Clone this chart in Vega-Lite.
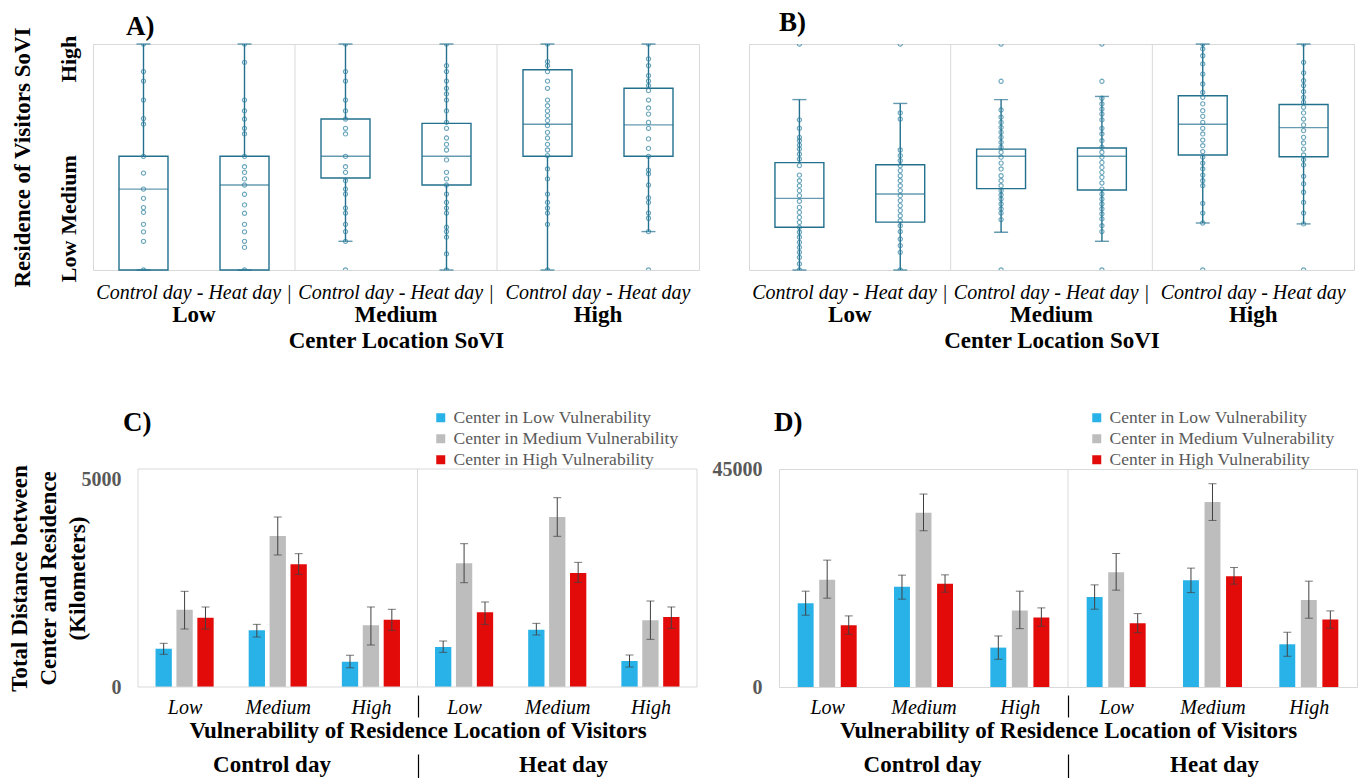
{
"$schema": "https://vega.github.io/schema/vega-lite/v6.json",
"background": "white",
"padding": {"left": 8, "top": 8, "right": 0, "bottom": 0},
"config": {
  "font": "Liberation Serif",
  "view": {"stroke": "#d9d9d9", "strokeWidth": 1},
  "axis": {"labelFont": "Liberation Serif", "titleFont": "Liberation Serif", "grid": false, "domain": false, "ticks": false, "labelColor": "black", "titleColor": "black"},
  "title": {"font": "Liberation Serif", "fontSize": 27, "fontWeight": "bold", "anchor": "start", "frame": "group", "color": "black"},
  "legend": {"labelFont": "Liberation Serif"}
},
"datasets": {
  "ptsA": [
    {"grp":"Low","day":"Control","v":1},{"grp":"Low","day":"Control","v":0.878},{"grp":"Low","day":"Control","v":0.836},{"grp":"Low","day":"Control","v":0.752},{"grp":"Low","day":"Control","v":0.67},{"grp":"Low","day":"Control","v":0.645},{"grp":"Low","day":"Control","v":0.503},{"grp":"Low","day":"Control","v":0.429},{"grp":"Low","day":"Control","v":0.358},{"grp":"Low","day":"Control","v":0.317},{"grp":"Low","day":"Control","v":0.276},{"grp":"Low","day":"Control","v":0.255},{"grp":"Low","day":"Control","v":0.202},{"grp":"Low","day":"Control","v":0.169},{"grp":"Low","day":"Control","v":0.127},{"grp":"Low","day":"Control","v":0},
    {"grp":"Low","day":"Heat","v":1},{"grp":"Low","day":"Heat","v":0.919},{"grp":"Low","day":"Heat","v":0.752},{"grp":"Low","day":"Heat","v":0.704},{"grp":"Low","day":"Heat","v":0.668},{"grp":"Low","day":"Heat","v":0.627},{"grp":"Low","day":"Heat","v":0.602},{"grp":"Low","day":"Heat","v":0.503},{"grp":"Low","day":"Heat","v":0.457},{"grp":"Low","day":"Heat","v":0.432},{"grp":"Low","day":"Heat","v":0.403},{"grp":"Low","day":"Heat","v":0.376},{"grp":"Low","day":"Heat","v":0.335},{"grp":"Low","day":"Heat","v":0.288},{"grp":"Low","day":"Heat","v":0.251},{"grp":"Low","day":"Heat","v":0.202},{"grp":"Low","day":"Heat","v":0.169},{"grp":"Low","day":"Heat","v":0.127},{"grp":"Low","day":"Heat","v":0.1},{"grp":"Low","day":"Heat","v":0},
    {"grp":"Medium","day":"Control","v":1},{"grp":"Medium","day":"Control","v":0.878},{"grp":"Medium","day":"Control","v":0.836},{"grp":"Medium","day":"Control","v":0.752},{"grp":"Medium","day":"Control","v":0.704},{"grp":"Medium","day":"Control","v":0.668},{"grp":"Medium","day":"Control","v":0.627},{"grp":"Medium","day":"Control","v":0.602},{"grp":"Medium","day":"Control","v":0.503},{"grp":"Medium","day":"Control","v":0.457},{"grp":"Medium","day":"Control","v":0.432},{"grp":"Medium","day":"Control","v":0.395},{"grp":"Medium","day":"Control","v":0.358},{"grp":"Medium","day":"Control","v":0.336},{"grp":"Medium","day":"Control","v":0.274},{"grp":"Medium","day":"Control","v":0.252},{"grp":"Medium","day":"Control","v":0.202},{"grp":"Medium","day":"Control","v":0.17},{"grp":"Medium","day":"Control","v":0.127},{"grp":"Medium","day":"Control","v":0},
    {"grp":"Medium","day":"Heat","v":1},{"grp":"Medium","day":"Heat","v":0.904},{"grp":"Medium","day":"Heat","v":0.878},{"grp":"Medium","day":"Heat","v":0.836},{"grp":"Medium","day":"Heat","v":0.804},{"grp":"Medium","day":"Heat","v":0.779},{"grp":"Medium","day":"Heat","v":0.752},{"grp":"Medium","day":"Heat","v":0.704},{"grp":"Medium","day":"Heat","v":0.653},{"grp":"Medium","day":"Heat","v":0.627},{"grp":"Medium","day":"Heat","v":0.584},{"grp":"Medium","day":"Heat","v":0.556},{"grp":"Medium","day":"Heat","v":0.531},{"grp":"Medium","day":"Heat","v":0.487},{"grp":"Medium","day":"Heat","v":0.432},{"grp":"Medium","day":"Heat","v":0.403},{"grp":"Medium","day":"Heat","v":0.376},{"grp":"Medium","day":"Heat","v":0.336},{"grp":"Medium","day":"Heat","v":0.299},{"grp":"Medium","day":"Heat","v":0.274},{"grp":"Medium","day":"Heat","v":0.252},{"grp":"Medium","day":"Heat","v":0.189},{"grp":"Medium","day":"Heat","v":0.17},{"grp":"Medium","day":"Heat","v":0.145},{"grp":"Medium","day":"Heat","v":0.071},{"grp":"Medium","day":"Heat","v":0},
    {"grp":"High","day":"Control","v":1},{"grp":"High","day":"Control","v":0.922},{"grp":"High","day":"Control","v":0.904},{"grp":"High","day":"Control","v":0.878},{"grp":"High","day":"Control","v":0.836},{"grp":"High","day":"Control","v":0.804},{"grp":"High","day":"Control","v":0.752},{"grp":"High","day":"Control","v":0.727},{"grp":"High","day":"Control","v":0.704},{"grp":"High","day":"Control","v":0.683},{"grp":"High","day":"Control","v":0.661},{"grp":"High","day":"Control","v":0.639},{"grp":"High","day":"Control","v":0.609},{"grp":"High","day":"Control","v":0.584},{"grp":"High","day":"Control","v":0.556},{"grp":"High","day":"Control","v":0.531},{"grp":"High","day":"Control","v":0.506},{"grp":"High","day":"Control","v":0.447},{"grp":"High","day":"Control","v":0.403},{"grp":"High","day":"Control","v":0.336},{"grp":"High","day":"Control","v":0.299},{"grp":"High","day":"Control","v":0.274},{"grp":"High","day":"Control","v":0.252},{"grp":"High","day":"Control","v":0.202},{"grp":"High","day":"Control","v":0},
    {"grp":"High","day":"Heat","v":1},{"grp":"High","day":"Heat","v":0.934},{"grp":"High","day":"Heat","v":0.904},{"grp":"High","day":"Heat","v":0.86},{"grp":"High","day":"Heat","v":0.836},{"grp":"High","day":"Heat","v":0.816},{"grp":"High","day":"Heat","v":0.794},{"grp":"High","day":"Heat","v":0.752},{"grp":"High","day":"Heat","v":0.717},{"grp":"High","day":"Heat","v":0.69},{"grp":"High","day":"Heat","v":0.653},{"grp":"High","day":"Heat","v":0.627},{"grp":"High","day":"Heat","v":0.58},{"grp":"High","day":"Heat","v":0.538},{"grp":"High","day":"Heat","v":0.503},{"grp":"High","day":"Heat","v":0.442},{"grp":"High","day":"Heat","v":0.425},{"grp":"High","day":"Heat","v":0.376},{"grp":"High","day":"Heat","v":0.319},{"grp":"High","day":"Heat","v":0.299},{"grp":"High","day":"Heat","v":0.252},{"grp":"High","day":"Heat","v":0.229},{"grp":"High","day":"Heat","v":0.17},{"grp":"High","day":"Heat","v":0}
  ],
  "ptsB": [
    {"grp":"Low","day":"Control","v":1},{"grp":"Low","day":"Control","v":0.664},{"grp":"Low","day":"Control","v":0.627},{"grp":"Low","day":"Control","v":0.587},{"grp":"Low","day":"Control","v":0.572},{"grp":"Low","day":"Control","v":0.553},{"grp":"Low","day":"Control","v":0.535},{"grp":"Low","day":"Control","v":0.513},{"grp":"Low","day":"Control","v":0.491},{"grp":"Low","day":"Control","v":0.462},{"grp":"Low","day":"Control","v":0.42},{"grp":"Low","day":"Control","v":0.395},{"grp":"Low","day":"Control","v":0.373},{"grp":"Low","day":"Control","v":0.351},{"grp":"Low","day":"Control","v":0.329},{"grp":"Low","day":"Control","v":0.304},{"grp":"Low","day":"Control","v":0.277},{"grp":"Low","day":"Control","v":0.255},{"grp":"Low","day":"Control","v":0.233},{"grp":"Low","day":"Control","v":0.211},{"grp":"Low","day":"Control","v":0.189},{"grp":"Low","day":"Control","v":0.167},{"grp":"Low","day":"Control","v":0.145},{"grp":"Low","day":"Control","v":0.122},{"grp":"Low","day":"Control","v":0.1},{"grp":"Low","day":"Control","v":0.078},{"grp":"Low","day":"Control","v":0.056},{"grp":"Low","day":"Control","v":0.027},{"grp":"Low","day":"Control","v":0},
    {"grp":"Low","day":"Heat","v":1},{"grp":"Low","day":"Heat","v":0.695},{"grp":"Low","day":"Heat","v":0.668},{"grp":"Low","day":"Heat","v":0.531},{"grp":"Low","day":"Heat","v":0.506},{"grp":"Low","day":"Heat","v":0.484},{"grp":"Low","day":"Heat","v":0.462},{"grp":"Low","day":"Heat","v":0.44},{"grp":"Low","day":"Heat","v":0.417},{"grp":"Low","day":"Heat","v":0.395},{"grp":"Low","day":"Heat","v":0.373},{"grp":"Low","day":"Heat","v":0.351},{"grp":"Low","day":"Heat","v":0.329},{"grp":"Low","day":"Heat","v":0.307},{"grp":"Low","day":"Heat","v":0.285},{"grp":"Low","day":"Heat","v":0.263},{"grp":"Low","day":"Heat","v":0.24},{"grp":"Low","day":"Heat","v":0.218},{"grp":"Low","day":"Heat","v":0.196},{"grp":"Low","day":"Heat","v":0.17},{"grp":"Low","day":"Heat","v":0.137},{"grp":"Low","day":"Heat","v":0.108},{"grp":"Low","day":"Heat","v":0.078},{"grp":"Low","day":"Heat","v":0},
    {"grp":"Medium","day":"Control","v":1},{"grp":"Medium","day":"Control","v":0.835},{"grp":"Medium","day":"Control","v":0.708},{"grp":"Medium","day":"Control","v":0.676},{"grp":"Medium","day":"Control","v":0.653},{"grp":"Medium","day":"Control","v":0.631},{"grp":"Medium","day":"Control","v":0.609},{"grp":"Medium","day":"Control","v":0.587},{"grp":"Medium","day":"Control","v":0.565},{"grp":"Medium","day":"Control","v":0.543},{"grp":"Medium","day":"Control","v":0.521},{"grp":"Medium","day":"Control","v":0.499},{"grp":"Medium","day":"Control","v":0.473},{"grp":"Medium","day":"Control","v":0.447},{"grp":"Medium","day":"Control","v":0.417},{"grp":"Medium","day":"Control","v":0.395},{"grp":"Medium","day":"Control","v":0.373},{"grp":"Medium","day":"Control","v":0.351},{"grp":"Medium","day":"Control","v":0.332},{"grp":"Medium","day":"Control","v":0.314},{"grp":"Medium","day":"Control","v":0.292},{"grp":"Medium","day":"Control","v":0.27},{"grp":"Medium","day":"Control","v":0.252},{"grp":"Medium","day":"Control","v":0.223},{"grp":"Medium","day":"Control","v":0},
    {"grp":"Medium","day":"Heat","v":1},{"grp":"Medium","day":"Heat","v":0.835},{"grp":"Medium","day":"Heat","v":0.76},{"grp":"Medium","day":"Heat","v":0.735},{"grp":"Medium","day":"Heat","v":0.712},{"grp":"Medium","day":"Heat","v":0.69},{"grp":"Medium","day":"Heat","v":0.664},{"grp":"Medium","day":"Heat","v":0.627},{"grp":"Medium","day":"Heat","v":0.602},{"grp":"Medium","day":"Heat","v":0.572},{"grp":"Medium","day":"Heat","v":0.543},{"grp":"Medium","day":"Heat","v":0.521},{"grp":"Medium","day":"Heat","v":0.499},{"grp":"Medium","day":"Heat","v":0.476},{"grp":"Medium","day":"Heat","v":0.454},{"grp":"Medium","day":"Heat","v":0.432},{"grp":"Medium","day":"Heat","v":0.41},{"grp":"Medium","day":"Heat","v":0.385},{"grp":"Medium","day":"Heat","v":0.358},{"grp":"Medium","day":"Heat","v":0.336},{"grp":"Medium","day":"Heat","v":0.314},{"grp":"Medium","day":"Heat","v":0.292},{"grp":"Medium","day":"Heat","v":0.27},{"grp":"Medium","day":"Heat","v":0.248},{"grp":"Medium","day":"Heat","v":0.226},{"grp":"Medium","day":"Heat","v":0.196},{"grp":"Medium","day":"Heat","v":0.17},{"grp":"Medium","day":"Heat","v":0},
    {"grp":"High","day":"Control","v":1},{"grp":"High","day":"Control","v":0.978},{"grp":"High","day":"Control","v":0.948},{"grp":"High","day":"Control","v":0.912},{"grp":"High","day":"Control","v":0.867},{"grp":"High","day":"Control","v":0.823},{"grp":"High","day":"Control","v":0.786},{"grp":"High","day":"Control","v":0.764},{"grp":"High","day":"Control","v":0.735},{"grp":"High","day":"Control","v":0.705},{"grp":"High","day":"Control","v":0.68},{"grp":"High","day":"Control","v":0.653},{"grp":"High","day":"Control","v":0.627},{"grp":"High","day":"Control","v":0.602},{"grp":"High","day":"Control","v":0.575},{"grp":"High","day":"Control","v":0.55},{"grp":"High","day":"Control","v":0.524},{"grp":"High","day":"Control","v":0.499},{"grp":"High","day":"Control","v":0.473},{"grp":"High","day":"Control","v":0.447},{"grp":"High","day":"Control","v":0.42},{"grp":"High","day":"Control","v":0.395},{"grp":"High","day":"Control","v":0.373},{"grp":"High","day":"Control","v":0.295},{"grp":"High","day":"Control","v":0.252},{"grp":"High","day":"Control","v":0.208},{"grp":"High","day":"Control","v":0},
    {"grp":"High","day":"Heat","v":1},{"grp":"High","day":"Heat","v":0.919},{"grp":"High","day":"Heat","v":0.872},{"grp":"High","day":"Heat","v":0.838},{"grp":"High","day":"Heat","v":0.816},{"grp":"High","day":"Heat","v":0.789},{"grp":"High","day":"Heat","v":0.764},{"grp":"High","day":"Heat","v":0.742},{"grp":"High","day":"Heat","v":0.72},{"grp":"High","day":"Heat","v":0.695},{"grp":"High","day":"Heat","v":0.668},{"grp":"High","day":"Heat","v":0.642},{"grp":"High","day":"Heat","v":0.617},{"grp":"High","day":"Heat","v":0.587},{"grp":"High","day":"Heat","v":0.562},{"grp":"High","day":"Heat","v":0.535},{"grp":"High","day":"Heat","v":0.509},{"grp":"High","day":"Heat","v":0.488},{"grp":"High","day":"Heat","v":0.465},{"grp":"High","day":"Heat","v":0.414},{"grp":"High","day":"Heat","v":0.381},{"grp":"High","day":"Heat","v":0.344},{"grp":"High","day":"Heat","v":0.299},{"grp":"High","day":"Heat","v":0.252},{"grp":"High","day":"Heat","v":0.204},{"grp":"High","day":"Heat","v":0}
  ],
  "boxA": [
    {"grp":"Low","day":"Control","lo":0,"q1":0,"med":0.358,"q3":0.503,"hi":1},
    {"grp":"Low","day":"Heat","lo":0,"q1":0,"med":0.376,"q3":0.503,"hi":1},
    {"grp":"Medium","day":"Control","lo":0.127,"q1":0.407,"med":0.503,"q3":0.668,"hi":1},
    {"grp":"Medium","day":"Heat","lo":0,"q1":0.376,"med":0.503,"q3":0.649,"hi":1},
    {"grp":"High","day":"Control","lo":0,"q1":0.503,"med":0.645,"q3":0.886,"hi":1},
    {"grp":"High","day":"Heat","lo":0.17,"q1":0.503,"med":0.642,"q3":0.804,"hi":1}
  ],
  "boxB": [
    {"grp":"Low","day":"Control","lo":0,"q1":0.189,"med":0.317,"q3":0.475,"hi":0.754},
    {"grp":"Low","day":"Heat","lo":0,"q1":0.212,"med":0.336,"q3":0.466,"hi":0.737},
    {"grp":"Medium","day":"Control","lo":0.167,"q1":0.36,"med":0.503,"q3":0.535,"hi":0.754},
    {"grp":"Medium","day":"Heat","lo":0.127,"q1":0.354,"med":0.503,"q3":0.54,"hi":0.768},
    {"grp":"High","day":"Control","lo":0.208,"q1":0.509,"med":0.645,"q3":0.771,"hi":1},
    {"grp":"High","day":"Heat","lo":0.204,"q1":0.501,"med":0.63,"q3":0.732,"hi":1}
  ],
  "barsC": [
    {"slot":"C-Low","ctr":"Center in Low Vulnerability","v":878,"lo":750,"hi":1002},
    {"slot":"C-Low","ctr":"Center in Medium Vulnerability","v":1774,"lo":1330,"hi":2195},
    {"slot":"C-Low","ctr":"Center in High Vulnerability","v":1590,"lo":1330,"hi":1835},
    {"slot":"C-Medium","ctr":"Center in Low Vulnerability","v":1300,"lo":1147,"hi":1437},
    {"slot":"C-Medium","ctr":"Center in Medium Vulnerability","v":3463,"lo":3028,"hi":3899},
    {"slot":"C-Medium","ctr":"Center in High Vulnerability","v":2813,"lo":2584,"hi":3058},
    {"slot":"C-High","ctr":"Center in Low Vulnerability","v":581,"lo":443,"hi":727},
    {"slot":"C-High","ctr":"Center in Medium Vulnerability","v":1415,"lo":963,"hi":1835},
    {"slot":"C-High","ctr":"Center in High Vulnerability","v":1544,"lo":1300,"hi":1782},
    {"slot":"H-Low","ctr":"Center in Low Vulnerability","v":917,"lo":795,"hi":1055},
    {"slot":"H-Low","ctr":"Center in Medium Vulnerability","v":2837,"lo":2392,"hi":3287},
    {"slot":"H-Low","ctr":"Center in High Vulnerability","v":1713,"lo":1437,"hi":1950},
    {"slot":"H-Medium","ctr":"Center in Low Vulnerability","v":1315,"lo":1193,"hi":1460},
    {"slot":"H-Medium","ctr":"Center in Medium Vulnerability","v":3899,"lo":3456,"hi":4342},
    {"slot":"H-Medium","ctr":"Center in High Vulnerability","v":2615,"lo":2400,"hi":2859},
    {"slot":"H-High","ctr":"Center in Low Vulnerability","v":596,"lo":459,"hi":734},
    {"slot":"H-High","ctr":"Center in Medium Vulnerability","v":1529,"lo":1093,"hi":1972},
    {"slot":"H-High","ctr":"Center in High Vulnerability","v":1606,"lo":1346,"hi":1835}
  ],
  "barsD": [
    {"slot":"C-Low","ctr":"Center in Low Vulnerability","v":17300,"lo":14820,"hi":19780},
    {"slot":"C-Low","ctr":"Center in Medium Vulnerability","v":22118,"lo":18335,"hi":26190},
    {"slot":"C-Low","ctr":"Center in High Vulnerability","v":12750,"lo":10890,"hi":14676},
    {"slot":"C-Medium","ctr":"Center in Low Vulnerability","v":20670,"lo":18130,"hi":23090},
    {"slot":"C-Medium","ctr":"Center in Medium Vulnerability","v":35960,"lo":32250,"hi":39830},
    {"slot":"C-Medium","ctr":"Center in High Vulnerability","v":21290,"lo":19575,"hi":23150},
    {"slot":"C-High","ctr":"Center in Low Vulnerability","v":8130,"lo":5720,"hi":10540},
    {"slot":"C-High","ctr":"Center in Medium Vulnerability","v":15770,"lo":12050,"hi":19780},
    {"slot":"C-High","ctr":"Center in High Vulnerability","v":14330,"lo":12550,"hi":16330},
    {"slot":"H-Low","ctr":"Center in Low Vulnerability","v":18600,"lo":16060,"hi":21080},
    {"slot":"H-Low","ctr":"Center in Medium Vulnerability","v":23710,"lo":19990,"hi":27560},
    {"slot":"H-Low","ctr":"Center in High Vulnerability","v":13160,"lo":11220,"hi":15150},
    {"slot":"H-Medium","ctr":"Center in Low Vulnerability","v":22050,"lo":19490,"hi":24540},
    {"slot":"H-Medium","ctr":"Center in Medium Vulnerability","v":38180,"lo":34380,"hi":41960},
    {"slot":"H-Medium","ctr":"Center in High Vulnerability","v":22880,"lo":21230,"hi":24660},
    {"slot":"H-High","ctr":"Center in Low Vulnerability","v":8820,"lo":6340,"hi":11300},
    {"slot":"H-High","ctr":"Center in Medium Vulnerability","v":17980,"lo":14200,"hi":21850},
    {"slot":"H-High","ctr":"Center in High Vulnerability","v":13910,"lo":12130,"hi":15710}
  ]
},
"concat": [
  {
    "hconcat": [
      {
        "width": 606, "height": 226,
        "title": {"text": "A)", "dx": 33, "offset": -14},
        "layer": [
          {
            "encoding": {
              "x": {"field": "grp", "type": "nominal", "scale": {"domain": ["Low","Medium","High"], "paddingInner": 0, "paddingOuter": 0},
                    "axis": {"orient": "bottom", "title": null, "labelAngle": 0, "labelExpr": "datum.value == 'High' ? 'Control day - Heat day' : 'Control day - Heat day |'", "labelFontStyle": "italic", "labelFontSize": 20, "labelPadding": 12, "labelLimit": 500, "labelOverlap": false}},
              "xOffset": {"field": "day", "type": "nominal", "scale": {"domain": ["Control","Heat"], "paddingInner": 0.515, "paddingOuter": 0.2575}}
            },
            "layer": [
              {"data": {"name": "boxA"}, "mark": {"type": "rule", "color": "#22708e", "strokeWidth": 1.4},
               "encoding": {"y": {"field": "lo", "type": "quantitative", "title": "Residence of Visitors SoVI", "scale": {"domain": [0, 1], "nice": false, "zero": false},
                  "axis": {"values": [0.04, 0.334, 0.936], "labelExpr": "datum.value < 0.1 ? 'Low' : datum.value < 0.5 ? 'Medium' : 'High'", "labelAngle": -90, "labelAlign": "center", "labelBaseline": "bottom", "labelFontWeight": "bold", "labelFontSize": 22, "labelPadding": 13, "titleFontSize": 23, "titleFontWeight": "bold", "titlePadding": 23}},
                  "y2": {"field": "hi"}}},
              {"data": {"name": "boxA"}, "mark": {"type": "bar", "fill": "white", "stroke": "#22708e", "strokeWidth": 1.4},
               "encoding": {"y": {"field": "q1", "type": "quantitative", "title": "Residence of Visitors SoVI"}, "y2": {"field": "q3"}}},
              {"data": {"name": "boxA"}, "mark": {"type": "tick", "color": "#22708e", "size": 49, "thickness": 1.4},
               "encoding": {"y": {"field": "med", "type": "quantitative", "title": "Residence of Visitors SoVI"}}},
              {"data": {"name": "boxA"}, "mark": {"type": "tick", "color": "#22708e", "size": 14, "thickness": 1.4},
               "encoding": {"y": {"field": "lo", "type": "quantitative", "title": "Residence of Visitors SoVI"}}},
              {"data": {"name": "boxA"}, "mark": {"type": "tick", "color": "#22708e", "size": 14, "thickness": 1.4},
               "encoding": {"y": {"field": "hi", "type": "quantitative", "title": "Residence of Visitors SoVI"}}},
              {"data": {"name": "ptsA"}, "mark": {"type": "point", "shape": "circle", "filled": false, "size": 18, "strokeWidth": 1.1, "color": "#2c80a0", "clip": true},
               "encoding": {"y": {"field": "v", "type": "quantitative", "title": "Residence of Visitors SoVI"}}}
            ]
          },
          {
            "data": {"values": [{"g": "Medium"}, {"g": "High"}]},
            "mark": {"type": "rule", "color": "#d9d9d9", "strokeWidth": 1},
            "encoding": {
              "x": {"field": "g", "type": "nominal", "bandPosition": 0, "scale": {"domain": ["Low","Medium","High"], "paddingInner": 0, "paddingOuter": 0},
                    "axis": {"orient": "bottom", "offset": 30, "title": "Center Location SoVI", "titleFontSize": 23, "titleFontWeight": "bold", "titlePadding": 3, "labelAngle": 0, "labelFontWeight": "bold", "labelFontSize": 23, "labelPadding": 3}}
            }
          }
        ],
        "resolve": {"scale": {"x": "independent", "xOffset": "independent"}}
      },
      {
        "width": 605, "height": 226,
        "title": {"text": "B)", "dx": 30, "offset": 6},
        "layer": [
          {
            "encoding": {
              "x": {"field": "grp", "type": "nominal", "scale": {"domain": ["Low","Medium","High"], "paddingInner": 0, "paddingOuter": 0},
                    "axis": {"orient": "bottom", "title": null, "labelAngle": 0, "labelExpr": "datum.value == 'High' ? 'Control day - Heat day' : 'Control day - Heat day |'", "labelFontStyle": "italic", "labelFontSize": 20, "labelPadding": 12, "labelLimit": 500, "labelOverlap": false}},
              "xOffset": {"field": "day", "type": "nominal", "scale": {"domain": ["Control","Heat"], "paddingInner": 0.515, "paddingOuter": 0.2575}}
            },
            "layer": [
              {"data": {"name": "boxB"}, "mark": {"type": "rule", "color": "#22708e", "strokeWidth": 1.4},
               "encoding": {"y": {"field": "lo", "type": "quantitative", "scale": {"domain": [0, 1], "nice": false, "zero": false}, "axis": null}, "y2": {"field": "hi"}}},
              {"data": {"name": "boxB"}, "mark": {"type": "bar", "fill": "white", "stroke": "#22708e", "strokeWidth": 1.4},
               "encoding": {"y": {"field": "q1", "type": "quantitative", "axis": null}, "y2": {"field": "q3"}}},
              {"data": {"name": "boxB"}, "mark": {"type": "tick", "color": "#22708e", "size": 49, "thickness": 1.4},
               "encoding": {"y": {"field": "med", "type": "quantitative", "axis": null}}},
              {"data": {"name": "boxB"}, "mark": {"type": "tick", "color": "#22708e", "size": 14, "thickness": 1.4},
               "encoding": {"y": {"field": "lo", "type": "quantitative", "axis": null}}},
              {"data": {"name": "boxB"}, "mark": {"type": "tick", "color": "#22708e", "size": 14, "thickness": 1.4},
               "encoding": {"y": {"field": "hi", "type": "quantitative", "axis": null}}},
              {"data": {"name": "ptsB"}, "mark": {"type": "point", "shape": "circle", "filled": false, "size": 18, "strokeWidth": 1.1, "color": "#2c80a0", "clip": true},
               "encoding": {"y": {"field": "v", "type": "quantitative", "axis": null}}}
            ]
          },
          {
            "data": {"values": [{"g": "Medium"}, {"g": "High"}]},
            "mark": {"type": "rule", "color": "#d9d9d9", "strokeWidth": 1},
            "encoding": {
              "x": {"field": "g", "type": "nominal", "bandPosition": 0, "scale": {"domain": ["Low","Medium","High"], "paddingInner": 0, "paddingOuter": 0},
                    "axis": {"orient": "bottom", "offset": 30, "title": "Center Location SoVI", "titleFontSize": 23, "titleFontWeight": "bold", "titlePadding": 3, "labelAngle": 0, "labelFontWeight": "bold", "labelFontSize": 23, "labelPadding": 3}}
            }
          }
        ],
        "resolve": {"scale": {"x": "independent", "xOffset": "independent"}}
      }
    ],
    "spacing": 48
  },
  {
    "hconcat": [
      {
        "width": 604, "height": 218,
        "view": {"stroke": null},
        "title": {"text": "C)", "dx": 30, "offset": -28},
        "layer": [
          {
            "data": {"name": "barsC"},
            "encoding": {
              "x": {"field": "slot", "type": "nominal", "scale": {"domain": ["C-Low","C-Medium","C-High","H-Low","H-Medium","H-High"], "range": [45, 604], "paddingInner": 0.376, "paddingOuter": 0.188},
                    "axis": {"orient": "bottom", "offset": 8, "title": "Vulnerability of Residence Location of Visitors", "titleFontSize": 23, "titleFontWeight": "bold", "titlePadding": 2, "labelAngle": 0, "labelExpr": "slice(datum.value, 2)", "labelFontStyle": "italic", "labelFontSize": 20, "labelPadding": -20, "labelOffset": 46.58, "tickOffset": -46.58, "ticks": true, "tickSize": 22, "tickColor": "black", "tickWidth": 1.2, "tickOpacity": {"condition": {"test": "datum.value == 'H-Low'", "value": 1}, "value": 0}, "labelLimit": 500}},
              "xOffset": {"field": "ctr", "type": "nominal", "scale": {"domain": ["Center in Low Vulnerability","Center in Medium Vulnerability","Center in High Vulnerability"], "paddingInner": 0.22, "paddingOuter": 0}}
            },
            "layer": [
              {"mark": {"type": "bar"},
               "encoding": {
                 "y": {"field": "v", "type": "quantitative", "scale": {"domain": [0, 5000], "nice": false},
                       "title": ["Total Distance between", "Center and Residence", "(Kilometers)"],
                       "axis": {"offset": -45, "values": [0, 5000], "format": "d", "labelFontWeight": "bold", "labelFontSize": 20, "labelColor": "#595959", "labelPadding": 17, "labelBaseline": {"condition": {"test": "datum.value > 0", "value": "top"}, "value": "middle"}, "titleFontSize": 23, "titleFontWeight": "bold", "titleLineHeight": 29, "titlePadding": -8}},
                 "color": {"field": "ctr", "type": "nominal", "scale": {"domain": ["Center in Low Vulnerability","Center in Medium Vulnerability","Center in High Vulnerability"], "range": ["#29b2e8", "#bdbdbd", "#e30a0a"]},
                           "legend": {"orient": "none", "legendX": 339, "legendY": -60, "title": null, "symbolType": "square", "symbolSize": 81, "symbolStrokeWidth": 0, "labelFontSize": 17.5, "labelColor": "#595959", "labelLimit": 400, "rowPadding": 2, "labelOffset": 4, "padding": 0}}
               }},
              {"mark": {"type": "rule", "color": "#404040", "strokeWidth": 1},
               "encoding": {"y": {"field": "lo", "type": "quantitative"}, "y2": {"field": "hi"}}},
              {"mark": {"type": "tick", "color": "#404040", "size": 8, "thickness": 1},
               "encoding": {"y": {"field": "lo", "type": "quantitative"}}},
              {"mark": {"type": "tick", "color": "#404040", "size": 8, "thickness": 1},
               "encoding": {"y": {"field": "hi", "type": "quantitative"}}}
            ]
          },
          {
            "data": {"values": [{"day": "Control"}, {"day": "Heat"}]},
            "mark": {"type": "bar", "fill": "transparent", "stroke": "#d9d9d9", "strokeWidth": 1},
            "encoding": {
              "x": {"field": "day", "type": "nominal", "scale": {"domain": ["Control","Heat"], "range": [45, 604], "paddingInner": 0, "paddingOuter": 0},
                    "axis": {"orient": "bottom", "offset": 67, "title": null, "labelAngle": 0, "labelFontWeight": "bold", "labelFontSize": 23, "labelExpr": "datum.value == 'Control' ? 'Control day' : 'Heat day'", "ticks": true, "tickSize": 24, "tickColor": "black", "tickWidth": 1.2, "tickOffset": -139.75, "tickOpacity": {"condition": {"test": "datum.value == 'Heat'", "value": 1}, "value": 0}, "labelOffset": {"condition": {"test": "datum.value == 'Control'", "value": 133.5}, "value": 145.5}, "labelPadding": -25}},
              "y": {"datum": 0, "type": "quantitative"},
              "y2": {"datum": 5000}
            }
          }
        ],
        "resolve": {"scale": {"x": "independent", "xOffset": "independent"}}
      },
      {
        "width": 578, "height": 218,
        "title": {"text": "D)", "dx": -5, "offset": -28},
        "layer": [
          {
            "data": {"name": "barsD"},
            "encoding": {
              "x": {"field": "slot", "type": "nominal", "scale": {"domain": ["C-Low","C-Medium","C-High","H-Low","H-Medium","H-High"], "paddingInner": 0.3875, "paddingOuter": 0.194},
                    "axis": {"orient": "bottom", "offset": 8, "title": "Vulnerability of Residence Location of Visitors", "titleFontSize": 23, "titleFontWeight": "bold", "titlePadding": 2, "labelAngle": 0, "labelExpr": "slice(datum.value, 2)", "labelFontStyle": "italic", "labelFontSize": 20, "labelPadding": -20, "labelOffset": 48.17, "tickOffset": -48.17, "ticks": true, "tickSize": 22, "tickColor": "black", "tickWidth": 1.2, "tickOpacity": {"condition": {"test": "datum.value == 'H-Low'", "value": 1}, "value": 0}, "labelLimit": 500}},
              "xOffset": {"field": "ctr", "type": "nominal", "scale": {"domain": ["Center in Low Vulnerability","Center in Medium Vulnerability","Center in High Vulnerability"], "paddingInner": 0.26, "paddingOuter": 0}}
            },
            "layer": [
              {"mark": {"type": "bar"},
               "encoding": {
                 "y": {"field": "v", "type": "quantitative", "scale": {"domain": [0, 45000], "nice": false}, "title": null,
                       "axis": {"values": [0, 45000], "format": "d", "labelFontWeight": "bold", "labelFontSize": 20, "labelColor": "#595959", "labelPadding": 17, "labelBaseline": "middle"}},
                 "color": {"field": "ctr", "type": "nominal", "scale": {"domain": ["Center in Low Vulnerability","Center in Medium Vulnerability","Center in High Vulnerability"], "range": ["#29b2e8", "#bdbdbd", "#e30a0a"]},
                           "legend": {"orient": "none", "legendX": 309, "legendY": -60, "title": null, "symbolType": "square", "symbolSize": 81, "symbolStrokeWidth": 0, "labelFontSize": 17.5, "labelColor": "#595959", "labelLimit": 400, "rowPadding": 2, "labelOffset": 4, "padding": 0}}
               }},
              {"mark": {"type": "rule", "color": "#404040", "strokeWidth": 1},
               "encoding": {"y": {"field": "lo", "type": "quantitative"}, "y2": {"field": "hi"}}},
              {"mark": {"type": "tick", "color": "#404040", "size": 8, "thickness": 1},
               "encoding": {"y": {"field": "lo", "type": "quantitative"}}},
              {"mark": {"type": "tick", "color": "#404040", "size": 8, "thickness": 1},
               "encoding": {"y": {"field": "hi", "type": "quantitative"}}}
            ]
          },
          {
            "data": {"values": [{"day": "Heat"}]},
            "mark": {"type": "rule", "color": "#d9d9d9", "strokeWidth": 1},
            "encoding": {
              "x": {"field": "day", "type": "nominal", "bandPosition": 0, "scale": {"domain": ["Control","Heat"], "paddingInner": 0, "paddingOuter": 0},
                    "axis": {"orient": "bottom", "offset": 67, "title": null, "labelAngle": 0, "labelFontWeight": "bold", "labelFontSize": 23, "labelExpr": "datum.value == 'Control' ? 'Control day' : 'Heat day'", "ticks": true, "tickSize": 24, "tickColor": "black", "tickWidth": 1.2, "tickOffset": -144.5, "tickOpacity": {"condition": {"test": "datum.value == 'Heat'", "value": 1}, "value": 0}, "labelOffset": {"condition": {"test": "datum.value == 'Control'", "value": 143}, "value": 146}, "labelPadding": -25}}
            }
          }
        ],
        "resolve": {"scale": {"x": "independent", "xOffset": "independent"}}
      }
    ],
    "spacing": 13,
    "resolve": {"scale": {"color": "independent"}, "legend": {"color": "independent"}}
  }
],
"columns": 1,
"align": "none",
"spacing": 55
}
